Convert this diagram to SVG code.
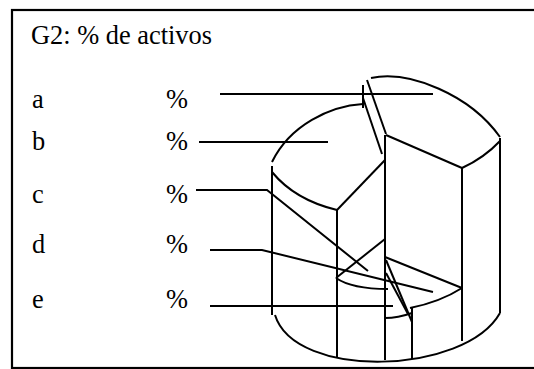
<svg xmlns="http://www.w3.org/2000/svg" width="534" height="369" viewBox="0 0 534 369">
<style>
.t{font-family:'Liberation Serif','Times New Roman',serif;font-size:26.4px;fill:#000}
.s{fill:none;stroke:#000;stroke-width:2;stroke-linecap:butt}
</style>
<rect x="0" y="0" width="534" height="369" fill="#fff"/>
<rect id="frame" x="12" y="10" width="530" height="358" fill="none" stroke="#000" stroke-width="2.2"/>
<g id="title"><text class="t" x="31" y="44">G2: % de activos</text></g>
<g id="label-a"><text class="t" x="32" y="108">a</text><text class="t" x="166" y="108">%</text></g>
<g id="label-b"><text class="t" x="32" y="150">b</text><text class="t" x="166" y="150">%</text></g>
<g id="label-c"><text class="t" x="32" y="203">c</text><text class="t" x="166" y="203">%</text></g>
<g id="label-d"><text class="t" x="32" y="253">d</text><text class="t" x="166" y="253">%</text></g>
<g id="label-e"><text class="t" x="32" y="308">e</text><text class="t" x="166" y="308">%</text></g>
<g id="slice-a">
<path class="s" d="M371,78 C410,70 470,95 500,137"/>
<path class="s" d="M462,168 Q484,158 500,141"/>
<path class="s" d="M367,80 L386,134"/>
<path class="s" d="M386,135 L462,168"/>
<path class="s" d="M500,138 V313"/>
<path class="s" d="M462,168 V341"/>
<path class="s" d="M385,135 V360"/>
</g>
<g id="slice-b">
<path class="s" d="M272,162 C290,125 330,106 363,104"/>
<path class="s" d="M363,85 V108"/>
<path class="s" d="M363,98 L382,154"/>
<path class="s" d="M385,160 L337,210"/>
<path class="s" d="M272,172 Q295,200 337,210"/>
<path class="s" d="M272,166 V315"/>
<path class="s" d="M337,210 V357"/>
</g>
<g id="slice-c">
<path class="s" d="M385,239 L336,278"/>
<path class="s" d="M336,278 Q352,289 388,289"/>
</g>
<g id="slice-d">
<path class="s" d="M385,257 L462,288"/>
<path class="s" d="M462,288 Q440,302 410,308"/>
</g>
<g id="slice-e">
<path class="s" d="M386,260 L412,322"/>
<path class="s" d="M386,273 L408,314"/>
<path class="s" d="M412,307 V359"/>
<path class="s" d="M385,318 Q398,318 412,313"/>
</g>
<g id="base">
<path class="s" d="M275,315 C295,380 465,375 500,313"/>
</g>
<g id="connectors">
<path class="s" d="M220,94 H433"/>
<path class="s" d="M199,142 H328"/>
<path class="s" d="M196,190 H267 L368,271"/>
<path class="s" d="M210,250 H262 L433,292"/>
<path class="s" d="M210,306 H393"/>
</g>
</svg>
